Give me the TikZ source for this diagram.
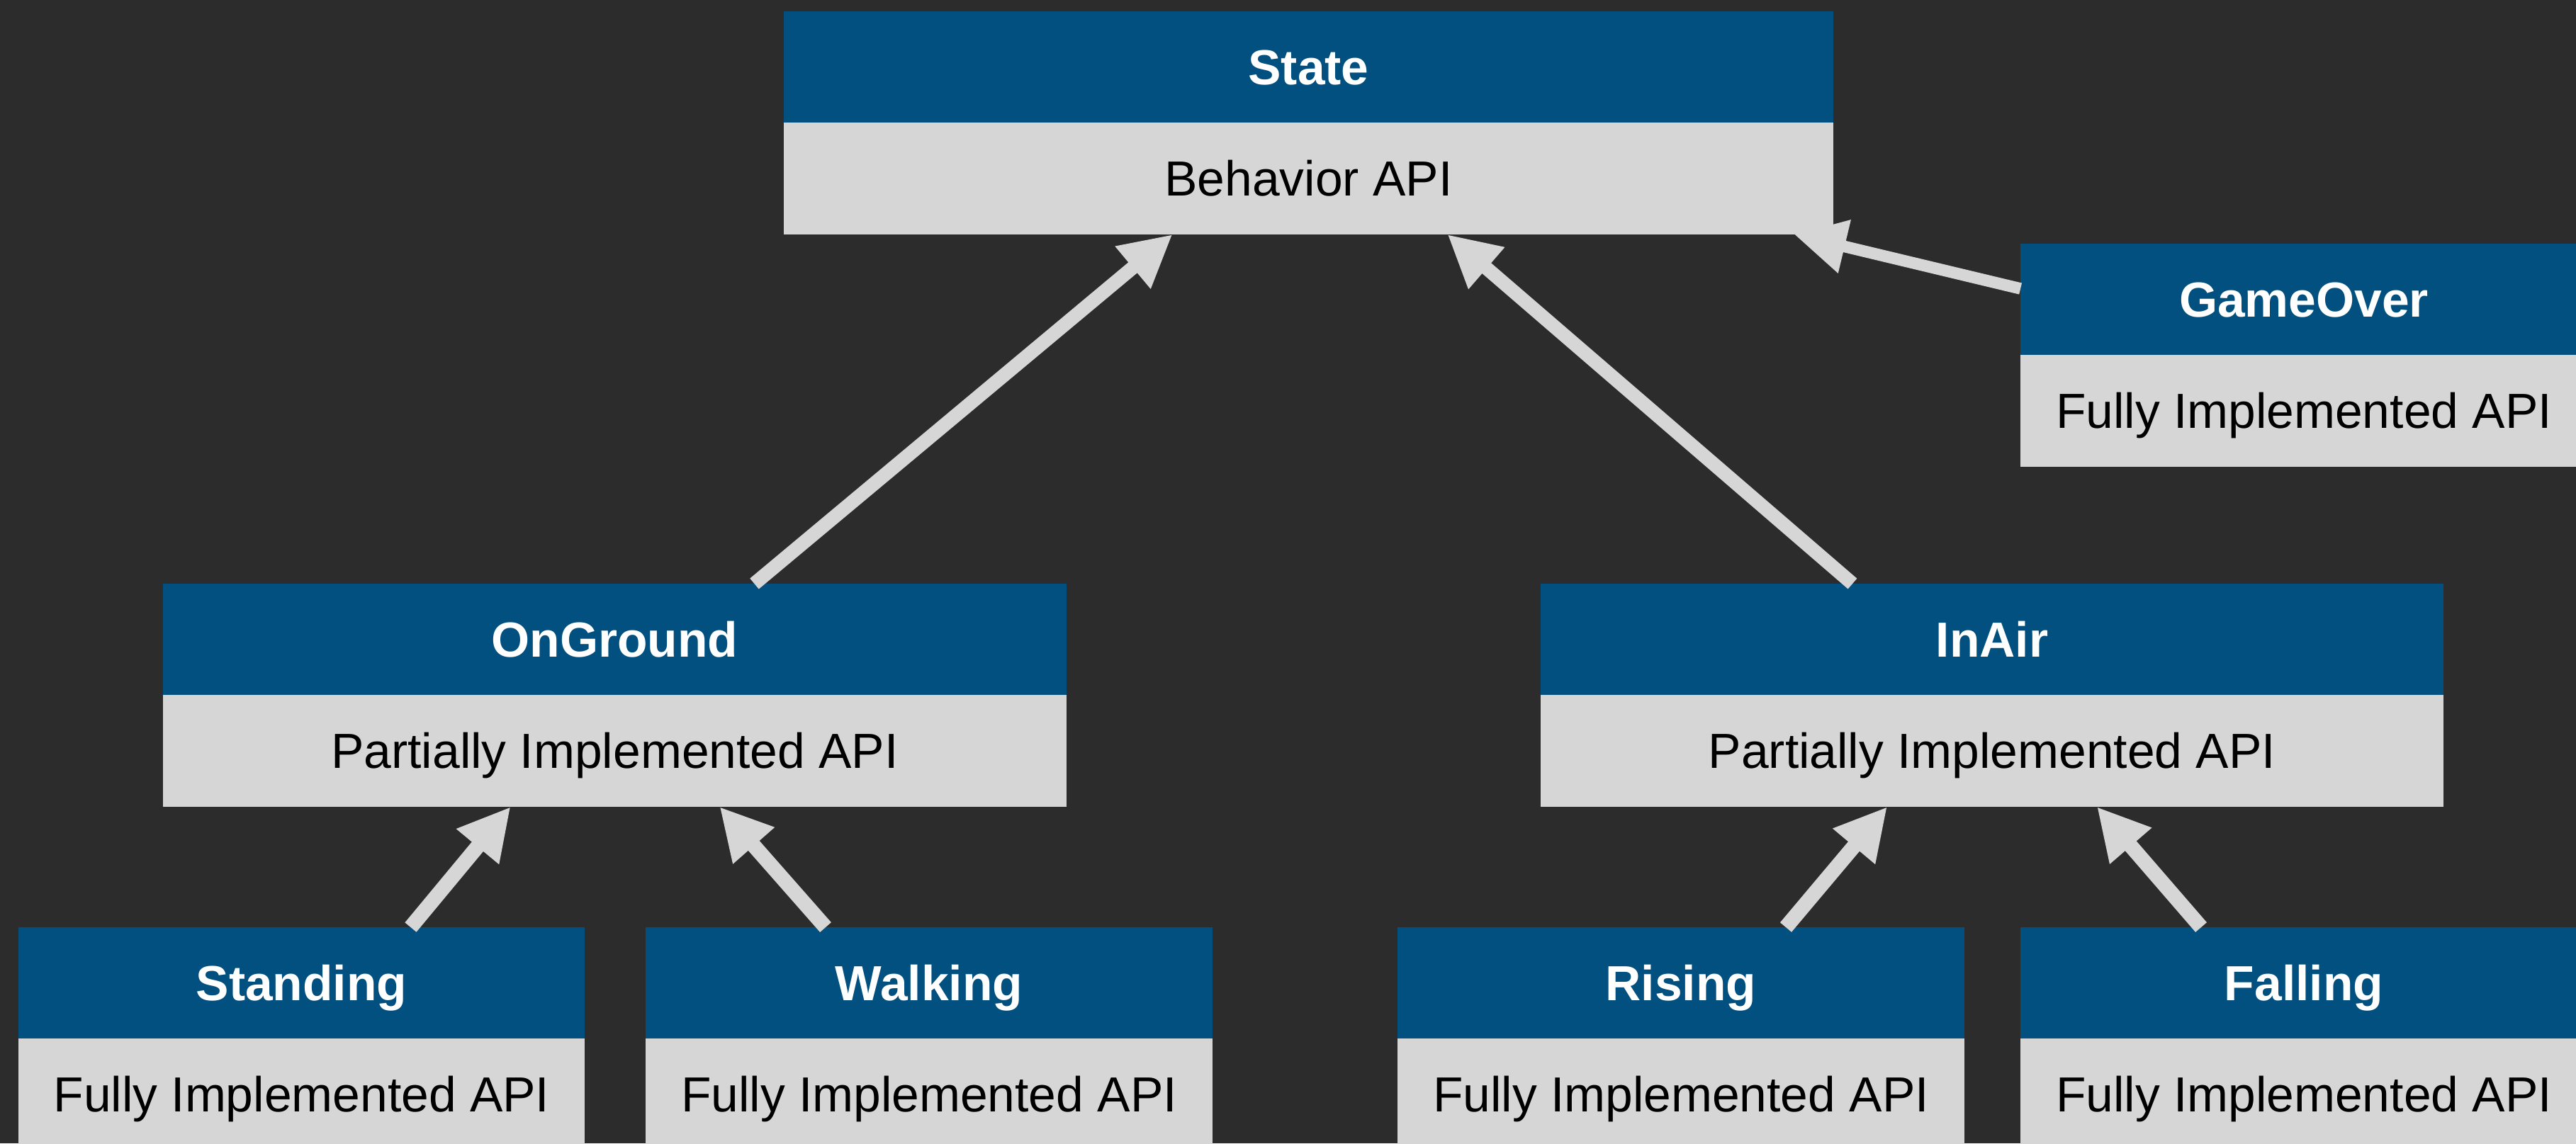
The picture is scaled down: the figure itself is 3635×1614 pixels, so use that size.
\documentclass[tikz,border=0pt]{standalone}
\usepackage{fontspec}
\setmainfont{Liberation Sans}
\usetikzlibrary{calc,arrows.meta}
\definecolor{bg}{HTML}{2C2C2C}
\definecolor{hdrblue}{HTML}{02507F}
\definecolor{bodygray}{HTML}{D6D6D6}
\begin{document}
\begin{tikzpicture}[x=0.02cm,y=-0.02cm,
  box/.style={inner sep=0pt, outer sep=0pt, text height=28.3pt, text depth=0pt},
  hdr/.style={box, fill=hdrblue, text=white, font=\fontsize{39.6}{47}\selectfont\bfseries, minimum height=3.14cm},
  bdy/.style={box, fill=bodygray, text=black, font=\fontsize{39.6}{47}\selectfont, minimum height=3.16cm},
  wide/.style={minimum width=29.62cm},
  mid/.style={minimum width=25.5cm},
  narrow/.style={minimum width=16cm},
  inherit/.style={draw=bodygray, line width=0.39cm, -{Triangle[length=1.46cm,width=1.46cm]}}
]
\useasboundingbox (0,0) rectangle (3635,1614);
\fill[bg] (0,0) rectangle (3635,1614);
\clip (0,0) rectangle (3635,1614);

% State
\node[hdr, wide] (stateH) at (1846.5,94.5) {State};
\node[bdy, wide] (stateB) at (1846.5,252) {Behavior API};
% GameOver
\node[hdr, narrow] (gameH) at (3251,422.5) {GameOver};
\node[bdy, narrow] (gameB) at (3251,580) {Fully Implemented API};
% OnGround
\node[hdr, mid] (ongH) at (867.5,902.5) {OnGround};
\node[bdy, mid] (ongB) at (867.5,1060) {Partially Implemented API};
% InAir
\node[hdr, mid] (inairH) at (2811,902.5) {InAir};
\node[bdy, mid] (inairB) at (2811,1060) {Partially Implemented API};
% Standing
\node[hdr, narrow] (standH) at (425.5,1387.5) {Standing};
\node[bdy, narrow] (standB) at (425.5,1545) {Fully Implemented API};
% Walking
\node[hdr, narrow] (walkH) at (1311,1387.5) {Walking};
\node[bdy, narrow] (walkB) at (1311,1545) {Fully Implemented API};
% Rising
\node[hdr, narrow] (riseH) at (2372,1387.5) {Rising};
\node[bdy, narrow] (riseB) at (2372,1545) {Fully Implemented API};
% Falling
\node[hdr, narrow] (fallH) at (3251,1387.5) {Falling};
\node[bdy, narrow] (fallB) at (3251,1545) {Fully Implemented API};

% inheritance arrows
\draw[inherit] ($(ongH.north)+(197,0)$) -- ($(stateB.south)+(-192,0)$);
\draw[inherit] ($(inairH.north)+(-197,0)$) -- ($(stateB.south)+(196,0)$);
\draw[inherit, line width=0.33cm] ($(gameH.west)+(0,-15)$) -- ($(stateB.south east)+(-55,0)$);
\draw[inherit, line width=0.42cm] ($(standH.north)+(154,0)$) -- ($(ongB.south)+(-147,0)$);
\draw[inherit, line width=0.42cm] ($(walkH.north)+(-146,0)$) -- ($(ongB.south)+(148,0)$);
\draw[inherit, line width=0.42cm] ($(riseH.north)+(148,0)$) -- ($(inairB.south)+(-148,0)$);
\draw[inherit, line width=0.42cm] ($(fallH.north)+(-145,0)$) -- ($(inairB.south)+(148,0)$);
\end{tikzpicture}
\end{document}
